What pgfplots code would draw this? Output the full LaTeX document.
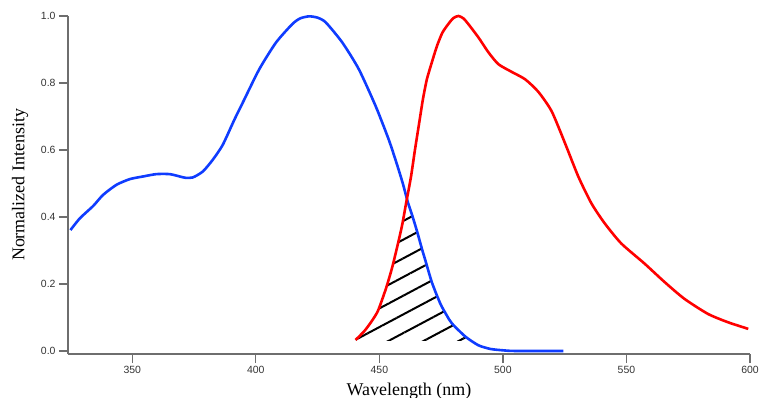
\documentclass[border=0pt]{standalone}
\usepackage{fontspec}
\setmainfont{Liberation Serif}
\newfontfamily\arial{Liberation Sans}
\usepackage{pgfplots}
\pgfplotsset{compat=1.18}
\usetikzlibrary{patterns.meta}
\definecolor{myblue}{RGB}{15,60,255}
\definecolor{myred}{RGB}{255,0,0}
\definecolor{axgray}{RGB}{110,110,110}

\pgfplotstableread{
x y
325.0 0.361
328.8 0.396
334.2 0.433
338.2 0.466
343.6 0.496
349.0 0.513
354.4 0.521
359.8 0.528
365.1 0.528
369.2 0.521
371.5 0.517
374.5 0.518
378.6 0.536
382.6 0.571
386.6 0.615
391.3 0.690
394.7 0.741
401.4 0.841
408.2 0.921
414.8 0.976
418.0 0.993
421.6 0.999
425.0 0.995
428.3 0.981
435.0 0.921
441.7 0.841
448.5 0.731
453.8 0.631
457.0 0.560
459.5 0.500
461.5 0.445
463.5 0.400
465.3 0.356
467.3 0.303
468.6 0.271
471.3 0.204
474.7 0.141
477.3 0.106
479.4 0.082
484.8 0.043
490.1 0.017
495.0 0.006
500.0 0.002
505.0 0.000
524.5 0.000
}\absorb

\pgfplotstableread{
x y
440.4 0.033
444.0 0.060
447.0 0.090
449.5 0.121
452.7 0.187
455.1 0.247
457.2 0.310
459.2 0.375
460.8 0.440
462.8 0.520
464.4 0.600
466.0 0.675
467.6 0.750
469.2 0.810
471.3 0.863
473.3 0.910
475.5 0.950
478.0 0.977
480.0 0.994
482.0 1.000
484.0 0.993
486.0 0.976
490.1 0.936
494.2 0.891
498.2 0.856
503.6 0.833
509.0 0.811
514.3 0.774
519.7 0.716
525.1 0.621
530.5 0.521
535.8 0.441
541.2 0.381
547.9 0.321
557.3 0.261
565.4 0.206
573.4 0.156
582.9 0.111
591.0 0.086
599.3 0.066
}\emiss

\pgfplotstableread{
x y
440.4 0.030
444.0 0.060
447.0 0.090
449.5 0.121
452.7 0.187
455.1 0.247
457.2 0.310
459.2 0.375
460.9 0.440
463.5 0.400
465.3 0.356
467.3 0.303
468.6 0.271
471.3 0.204
474.7 0.141
477.3 0.106
479.4 0.082
484.8 0.043
487.5 0.030
}\overlap

\begin{document}
\begin{tikzpicture}
\begin{axis}[name=ax, scale only axis, width=682bp, height=338bp,
  xmin=324, xmax=600, ymin=-0.009, ymax=1.0,
  axis lines=left,
  axis line style={axgray, line width=1.3bp, -},
  every tick/.style={axgray, line width=1.3bp},
  tick align=outside, major tick length=9bp,
  xtick={350,400,...,600}, ytick={0,0.2,0.4,0.6,0.8,1.0},
  yticklabel style={/pgf/number format/.cd, fixed, fixed zerofill, precision=1},
  /pgf/number format/assume math mode=true,
  tick label style={font=\arial\fontsize{10.5}{12}\selectfont, text=black!80},
  xlabel={Wavelength (nm)}, ylabel={Normalized Intensity},
  label style={font=\fontsize{18}{20}\selectfont},
  xlabel style={at={(axis description cs:0.5,-0.1095)}, anchor=center, inner sep=0pt},
  ylabel style={at={(axis description cs:-0.0704,0.5)}, anchor=center, inner sep=0pt},
  clip=false,
]
\addplot[draw=none, pattern={Lines[angle=28, distance=16.5bp, line width=2bp]}, pattern color=black] table[x=x,y=y] {\overlap} -- cycle;
\addplot[myblue, line width=2.6bp, smooth, tension=0.4] table[x=x,y=y] {\absorb};
\addplot[myred, line width=2.6bp, smooth, tension=0.4] table[x=x,y=y] {\emiss};
\end{axis}
\pgfresetboundingbox
\path[use as bounding box] ([shift={(-68bp,-44bp)}]ax.south west) rectangle ([shift={(12bp,16bp)}]ax.north east);
\end{tikzpicture}
\end{document}
